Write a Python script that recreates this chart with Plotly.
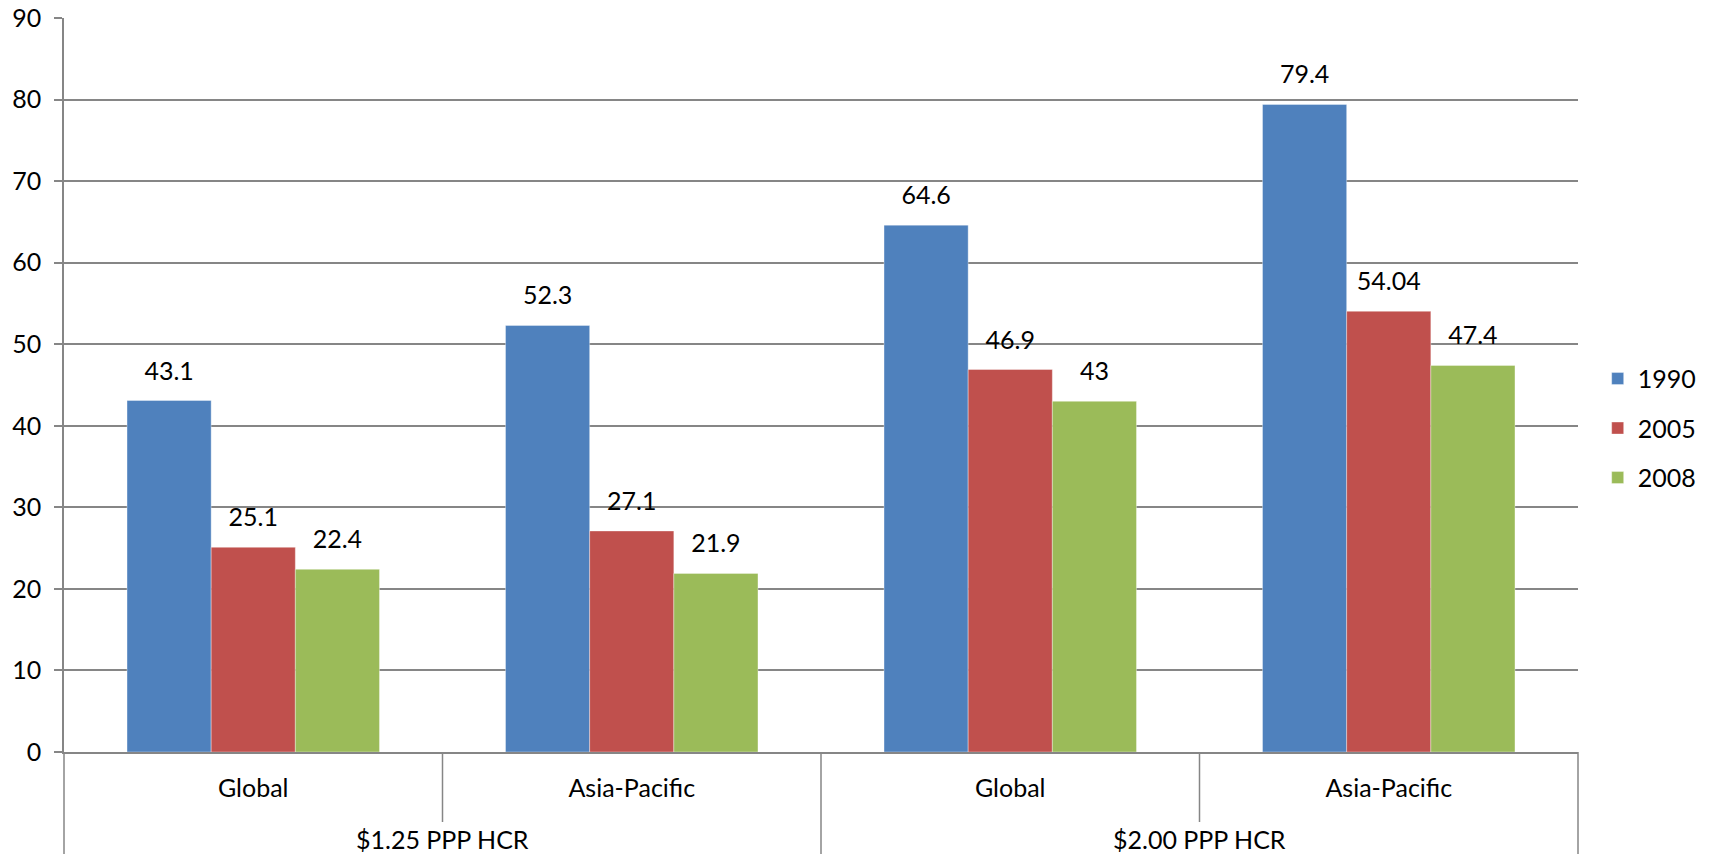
import plotly.graph_objects as go

groups = ["$1.25 PPP HCR", "$1.25 PPP HCR", "$2.00 PPP HCR", "$2.00 PPP HCR"]
regions = ["Global", "Asia-Pacific", "Global", "Asia-Pacific"]
group_labels = ["$1.25 PPP HCR", "$2.00 PPP HCR"]
series_names = ["1990", "2005", "2008"]
v1990 = [43.1, 52.3, 64.6, 79.4]
v2005 = [25.1, 27.1, 46.9, 54.04]
v2008 = [22.4, 21.9, 43, 47.4]
y_ticks = [0, 10, 20, 30, 40, 50, 60, 70, 80, 90]

cats = [f"{g}|{r}" for g, r in zip(groups, regions)]
colors = ["#4F81BD", "#C0504D", "#9BBB59"]
FONT = "Lato"
FS = 25
GRID = "#868686"

fig = go.Figure()
all_vals = [v1990, v2005, v2008]
for i, (name, vals) in enumerate(zip(series_names, all_vals)):
    fig.add_trace(go.Bar(
        x=cats, y=vals, name=name,
        marker=dict(color=colors[i], line=dict(width=0.6, color="rgba(255,255,255,0.6)")),
        legendgroup=name, hoverinfo="x+y+name",
    ))
for i, (name, vals) in enumerate(zip(series_names, all_vals)):
    fig.add_trace(go.Scatter(
        x=cats, y=vals, mode="markers+text", name=name + " labels",
        marker=dict(size=22, opacity=0),
        text=[f"{v:g}" for v in vals], textposition="top center",
        textfont=dict(family=FONT, size=FS, color="#000000"),
        showlegend=False, cliponaxis=False, hoverinfo="skip",
    ))

H = 854 - 18 - 102
shapes = []
for xp, y1 in [(0, -102 / H), (0.25, -70 / H), (0.5, -102 / H), (0.75, -70 / H), (1, -102 / H)]:
    shapes.append(dict(type="line", xref="paper", yref="paper", x0=xp, x1=xp, y0=0, y1=y1,
                       line=dict(color=GRID, width=1.5)))
annotations = [
    dict(text=g, xref="paper", yref="paper", x=xp, y=-87 / H, yanchor="middle", xanchor="center",
         showarrow=False, font=dict(family=FONT, size=FS, color="#000000"))
    for g, xp in zip(group_labels, [0.25, 0.75])
]

fig.update_layout(
    width=1709, height=854,
    margin=dict(l=64, r=131, t=18, b=102, autoexpand=False),
    paper_bgcolor="white", plot_bgcolor="white",
    barmode="group", bargap=0.333, bargroupgap=0,
    scattermode="group", scattergap=0.333,
    font=dict(family=FONT, size=FS, color="#000000"),
    legend=dict(x=1.013, xanchor="left", y=0.441, yanchor="middle",
                font=dict(size=FS, family=FONT), tracegroupgap=14, itemwidth=30),
    shapes=shapes, annotations=annotations,
)
fig.update_xaxes(
    type="category", tickvals=cats, ticktext=regions, showgrid=False,
    showline=True, linecolor=GRID, linewidth=1.5, ticks="",
    tickfont=dict(family=FONT, size=FS), ticklabelstandoff=13, automargin=False,
)
fig.update_yaxes(
    range=[0, 90], tickvals=y_ticks, showgrid=True, gridcolor=GRID, gridwidth=1.5,
    showline=True, linecolor=GRID, linewidth=1.5, ticks="outside", ticklen=8,
    tickcolor=GRID, tickwidth=1.5, zeroline=False, automargin=False,
    tickfont=dict(family=FONT, size=FS), ticklabelstandoff=8,
)
fig.write_html("out.html")
